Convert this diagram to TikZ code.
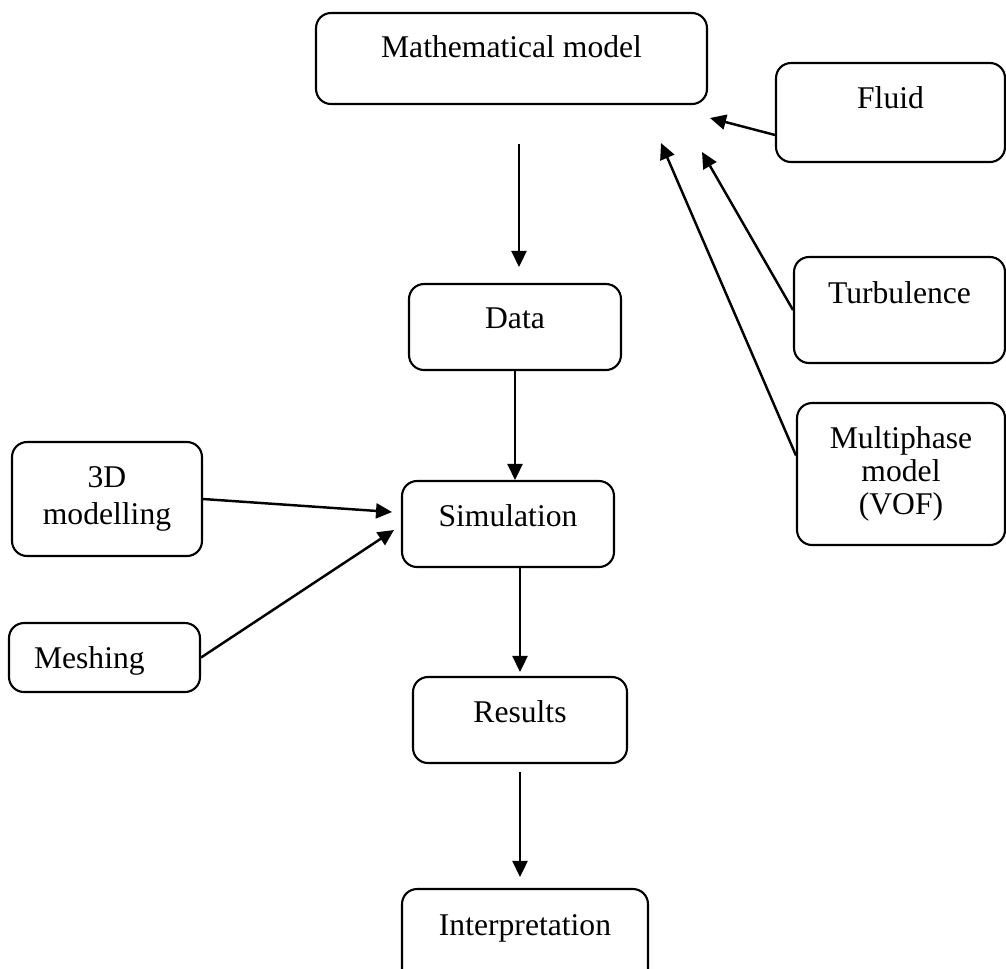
\documentclass[tikz,border=0pt]{standalone}
\usepackage{fontspec}
\setmainfont{Liberation Serif}
\usetikzlibrary{arrows.meta}
\tikzset{
	block/.style={draw, line width=1.2pt, rounded corners=0.3cm, align=center, inner sep=0pt, font=\fontsize{18}{20}\selectfont},
	lift/.style={text height=0.45cm, text depth=#1},
	link/.style={line width=1.4pt, -{Triangle[length=0.32cm, width=0.3cm]}}
}

\begin{document}
\begin{tikzpicture}[x=0.02cm, y=-0.02cm]
		%%%%% START %%%%%
		
		\clip (0, 0) rectangle (1006, 968);
		
		\node[block, lift=0.49cm, minimum width=7.82cm, minimum height=1.82cm] (math) at (511.5, 58.5) {Mathematical model};
		\node[block, lift=0.61cm, minimum width=4.58cm, minimum height=1.98cm] (fluid) at (890.5, 112.5) {Fluid};
		\node[block, lift=0.71cm, minimum width=4.22cm, minimum height=2.12cm] (turb) at (899.5, 310) {Turbulence};
		\node[block, font=\fontsize{18}{18.8}\selectfont, minimum width=4.16cm, minimum height=2.84cm] (multi) at (901, 474) {Multiphase\\model\\(VOF)};
		
		\node[block, lift=0.39cm, minimum width=4.24cm, minimum height=1.72cm] (data) at (515, 327) {Data};
		\node[block, lift=0.35cm, minimum width=4.24cm, minimum height=1.72cm] (sim) at (508, 524) {Simulation};
		\node[block, lift=0.35cm, minimum width=4.28cm, minimum height=1.72cm] (results) at (520, 720) {Results};
		\node[block, lift=0.51cm, minimum width=4.92cm, minimum height=1.92cm] (interp) at (525, 937) {Interpretation};
		
		\node[block, font=\fontsize{18}{21}\selectfont, minimum width=3.8cm, minimum height=2.28cm] (threed) at (107, 499) {3D\\modelling};
		\node[block, lift=0.03cm, align=left, text width=2.82cm, inner xsep=0.5cm, minimum height=1.38cm] (mesh) at (104.5, 657.5) {Meshing};
		
		\coordinate (mathout) at (519, 144);
		\coordinate (fluidtip) at (710, 118);
		\coordinate (turbtip) at (702, 152);
		\coordinate (multitip) at (661, 143);
		\coordinate (threedtip) at (392, 512);
		\coordinate (meshtip) at (394, 530);
		
		\draw[link, shorten >=0.32cm] (mathout) -- (mathout |- data.north);
		\draw[link] (data.south) -- (data.south |- sim.north);
		\draw[link, shorten >=0.08cm] (results.north |- sim.south) -- (results.north);
		\draw[link, shorten <=0.16cm, shorten >=0.22cm] (results.south) -- (results.south |- interp.north);
		
		\draw[link] (threed.east) -- (threedtip);
		\draw[link] (mesh.east) -- (meshtip);
		
		\draw[link] (fluid.191) -- (fluidtip);
		\draw[link] (turb.west) -- (turbtip);
		\draw[link] (multi.170) -- (multitip);
		
		%%%%% END %%%%%
	\end{tikzpicture}
\end{document}
